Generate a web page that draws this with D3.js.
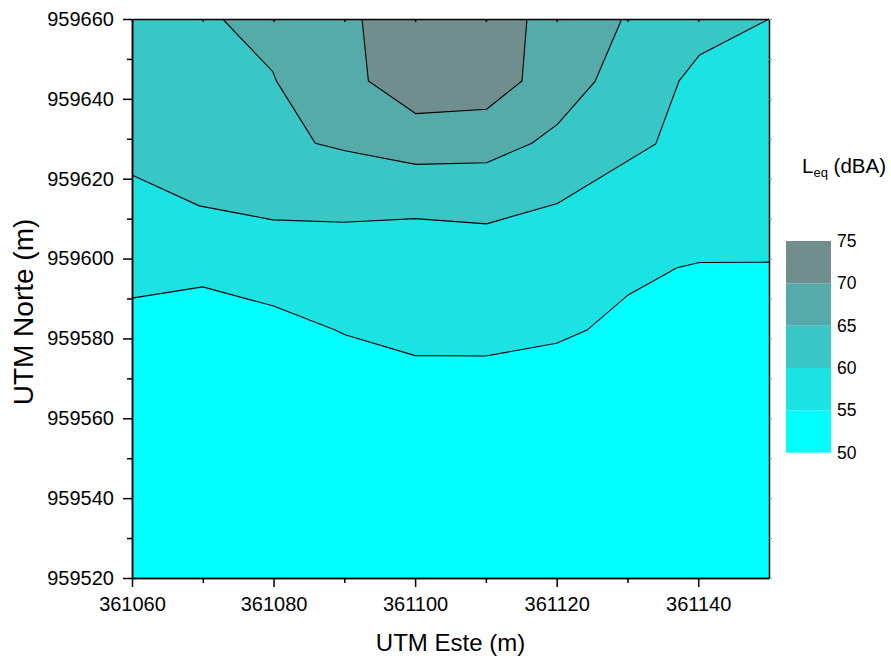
<!DOCTYPE html>
<html>
<head>
<meta charset="utf-8">
<script src="https://cdn.jsdelivr.net/npm/d3@7"></script>
<style>
  body { margin: 0; background: #fff; }
  text { font-family: "Liberation Sans", Arial, sans-serif; }
</style>
</head>
<body>
<svg id="chart" width="891" height="662"></svg>
<script>
// contour boundaries, [UTM Este, UTM Norte]
const line55 = [[361060, 959590.1], [361070, 959592.9], [361080, 959588.1], [361088.7, 959582.1],
  [361090.1, 959580.9], [361100, 959575.7], [361110, 959575.6], [361120, 959578.8],
  [361124.3, 959582.1], [361130.1, 959590.9], [361137, 959597.7], [361140.2, 959599.0],
  [361150, 959599.1]];
const line60 = [[361060, 959620.9], [361069.5, 959613.2], [361079.9, 959609.7], [361089.9, 959609.1],
  [361100, 959610.0], [361110.1, 959608.7], [361120.1, 959613.8], [361134, 959628.7],
  [361137.3, 959644.5], [361140.2, 959651.0], [361150, 959660]];
const line65 = [[361072.8, 959660], [361079.9, 959646.8], [361080.4, 959644.5], [361085.9, 959628.9],
  [361090.1, 959627.0], [361100.1, 959623.6], [361110.1, 959624.0], [361116.5, 959628.9],
  [361120.1, 959633.6], [361125.4, 959644.3], [361129.2, 959660]];
const line70 = [[361092.5, 959660], [361093.4, 959644.5], [361100.1, 959636.3], [361110.1, 959637.4],
  [361115.1, 959644.5], [361115.8, 959660]];

const levels = [50, 55, 60, 65, 70, 75];
const levelColors = ["#00FFFF", "#1CE3E3", "#38C6C6", "#55AAAA", "#718E8E"];
const xTicks = [361060, 361080, 361100, 361120, 361140];
const yTicks = [959520, 959540, 959560, 959580, 959600, 959620, 959640, 959660];

const svg = d3.select("#chart");
const mLeft = 132, mRight = 769, mTop = 19, mBottom = 578;

const x = d3.scaleLinear().domain([361060, 361150]).range([mLeft, mRight]);
const y = d3.scaleLinear().domain([959520, 959660]).range([mBottom, mTop]);
const line = d3.line().x(d => x(d[0])).y(d => y(d[1]));

const plot = svg.append("g");

// base band 50-55
plot.append("rect")
  .attr("x", mLeft).attr("y", mTop)
  .attr("width", mRight - mLeft).attr("height", mBottom - mTop)
  .attr("fill", levelColors[0]);

// each band is filled from its lower boundary up to the top edge
const x0 = x.domain()[0], x1 = x.domain()[1], yTop = y.domain()[1];
const bands = [
  { pts: line55.concat([[x1, yTop], [x0, yTop]]), c: levelColors[1] },
  { pts: line60.concat([[x0, yTop]]), c: levelColors[2] },
  { pts: line65, c: levelColors[3] },
  { pts: line70, c: levelColors[4] }
];
plot.selectAll("path.band").data(bands).enter().append("path")
  .attr("class", "band")
  .attr("d", d => line(d.pts) + "Z")
  .attr("fill", d => d.c);

plot.selectAll("path.contour").data([line55, line60, line65, line70]).enter().append("path")
  .attr("class", "contour")
  .attr("d", d => line(d))
  .attr("fill", "none")
  .attr("stroke", "#000")
  .attr("stroke-width", 1.1);

// axes
const minorX = d3.range(361070, 361150, 20);
const minorY = d3.range(959530, 959660, 20);

function styleAxis(g) {
  g.selectAll(".domain").attr("stroke", "#000").attr("stroke-width", 1.5);
  g.selectAll(".tick line").attr("stroke", "#000").attr("stroke-width", 1.5);
  g.selectAll("text").attr("fill", "#000").style("font-size", "20px")
    .style("font-family", "'Liberation Sans', Arial, sans-serif");
}

const xAxis = svg.append("g").attr("transform", "translate(0," + mBottom + ")")
  .call(d3.axisBottom(x).tickValues(xTicks).tickSize(9).tickPadding(10).tickFormat(d3.format("d")).tickSizeOuter(0));
styleAxis(xAxis);
svg.append("g").attr("transform", "translate(0," + mBottom + ")")
  .call(d3.axisBottom(x).tickValues(minorX).tickSize(5).tickFormat("").tickSizeOuter(0))
  .call(styleAxis);

const yAxis = svg.append("g").attr("transform", "translate(" + mLeft + ",0)")
  .call(d3.axisLeft(y).tickValues(yTicks).tickSize(9).tickPadding(9).tickFormat(d3.format("d")).tickSizeOuter(0));
styleAxis(yAxis);
svg.append("g").attr("transform", "translate(" + mLeft + ",0)")
  .call(d3.axisLeft(y).tickValues(minorY).tickSize(5).tickFormat("").tickSizeOuter(0))
  .call(styleAxis);

// top & right frame
svg.append("g").attr("transform", "translate(0," + mTop + ")")
  .call(d3.axisTop(x).tickValues(xTicks.concat(minorX)).tickSize(-3).tickFormat("").tickSizeOuter(0))
  .call(styleAxis);
svg.append("g").attr("transform", "translate(" + mRight + ",0)")
  .call(d3.axisRight(y).tickValues(yTicks.concat(minorY)).tickSize(3).tickFormat("").tickSizeOuter(0))
  .call(g => { styleAxis(g); g.selectAll(".tick line").attr("stroke", "#999").attr("stroke-width", 1); });

// axis titles
svg.append("text")
  .attr("x", (mLeft + mRight) / 2).attr("y", 651)
  .attr("text-anchor", "middle")
  .style("font-size", "24px")
  .text("UTM Este (m)");

svg.append("text")
  .attr("transform", "translate(33,312) rotate(-90)")
  .attr("text-anchor", "middle")
  .style("font-size", "28px")
  .text("UTM Norte (m)");

// colour legend
const ly = d3.scaleLinear().domain([50, 75]).range([452.7, 241]);
const legend = svg.append("g");
legend.selectAll("rect").data(levelColors).enter().append("rect")
  .attr("x", 786)
  .attr("width", 45)
  .attr("y", (d, i) => ly(levels[i + 1]))
  .attr("height", (d, i) => ly(levels[i]) - ly(levels[i + 1]))
  .attr("fill", d => d);

legend.selectAll("text").data(levels).enter().append("text")
  .attr("x", 837)
  .attr("y", d => ly(d))
  .attr("dy", "0.35em")
  .style("font-size", "17.5px")
  .text(d => d);

const title = svg.append("text").attr("x", 802).attr("y", 173).style("font-size", "20.5px");
title.append("tspan").text("L");
title.append("tspan").attr("dy", 4).style("font-size", "13px").text("eq");
title.append("tspan").attr("dy", -4).text(" (dBA)");
</script>
</body>
</html>
